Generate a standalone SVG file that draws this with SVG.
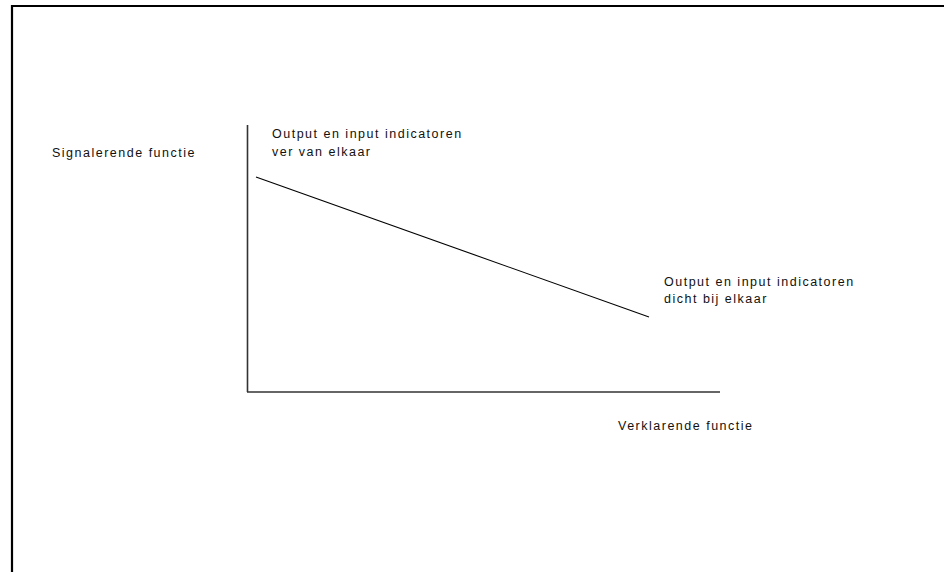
<svg xmlns="http://www.w3.org/2000/svg" width="944" height="572" viewBox="0 0 944 572">
<style>
.t{font-family:"Liberation Sans",Arial,sans-serif;font-size:12.5px;letter-spacing:1.5px;fill:#111}
.ax{stroke:#333;stroke-width:1.6;fill:none}
</style>
<rect width="944" height="572" fill="#fff"/>
<path d="M12 580 V6 H950" fill="none" stroke="#000" stroke-width="2.2"/>
<g id="axes">
<line class="ax" x1="247.5" y1="125" x2="247.5" y2="392"/>
<line class="ax" x1="247" y1="392" x2="720" y2="392"/>
</g>
<g id="connectors">
<line x1="256" y1="177" x2="649" y2="317" stroke="#000" stroke-width="1.1"/>
</g>
<g id="label-y"><text class="t" x="52" y="157">Signalerende functie</text></g>
<g id="label-top"><text class="t" x="272" y="138">Output en input indicatoren</text><text class="t" x="272" y="156">ver van elkaar</text></g>
<g id="label-bottom"><text class="t" x="664" y="286">Output en input indicatoren</text><text class="t" x="664" y="302.5">dicht bij elkaar</text></g>
<g id="label-x"><text class="t" x="618" y="430">Verklarende functie</text></g>
</svg>
